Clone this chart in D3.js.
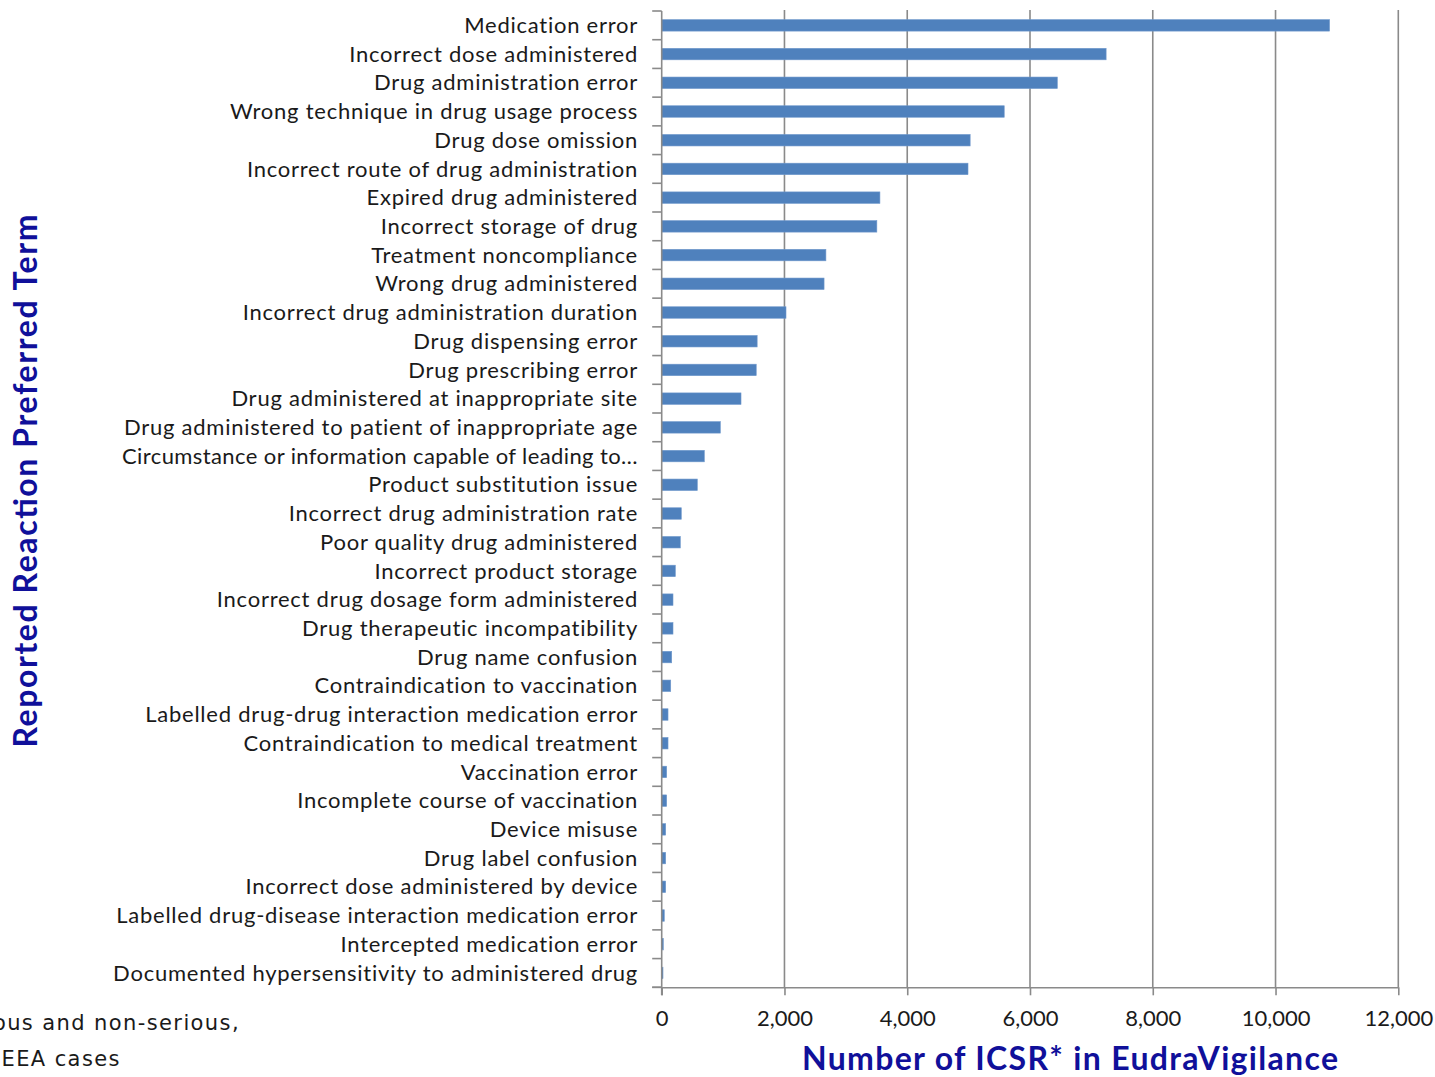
<!DOCTYPE html>
<html>
<head>
<meta charset="utf-8">
<script src="https://cdn.jsdelivr.net/npm/d3@7"></script>
<style>
  html, body { margin: 0; padding: 0; background: #fff; overflow: hidden; }
  svg { display: block; }
</style>
</head>
<body>
<svg id="chart" width="1435" height="1077"></svg>
<script>
const categories = [
  "Medication error",
  "Incorrect dose administered",
  "Drug administration error",
  "Wrong technique in drug usage process",
  "Drug dose omission",
  "Incorrect route of drug administration",
  "Expired drug administered",
  "Incorrect storage of drug",
  "Treatment noncompliance",
  "Wrong drug administered",
  "Incorrect drug administration duration",
  "Drug dispensing error",
  "Drug prescribing error",
  "Drug administered at inappropriate site",
  "Drug administered to patient of inappropriate age",
  "Circumstance or information capable of leading to…",
  "Product substitution issue",
  "Incorrect drug administration rate",
  "Poor quality drug administered",
  "Incorrect product storage",
  "Incorrect drug dosage form administered",
  "Drug therapeutic incompatibility",
  "Drug name confusion",
  "Contraindication to vaccination",
  "Labelled drug-drug interaction medication error",
  "Contraindication to medical treatment",
  "Vaccination error",
  "Incomplete course of vaccination",
  "Device misuse",
  "Drug label confusion",
  "Incorrect dose administered by device",
  "Labelled drug-disease interaction medication error",
  "Intercepted medication error",
  "Documented hypersensitivity to administered drug"
];

const icsrCounts = [
  10880, 7240, 6445, 5580, 5025, 4990, 3555, 3505, 2675, 2645,
  2025, 1555, 1540, 1292, 955, 694, 580, 319, 303, 222,
  184, 184, 163, 147, 103, 103, 81, 81, 65, 65,
  65, 42, 26, 21
];

const xTickValues = [0, 2000, 4000, 6000, 8000, 10000, 12000];

const xTitle = "Number of ICSR* in EudraVigilance";
const yTitle = "Reported Reaction Preferred Term";
const footnoteLines = ["*Serious and non-serious,", "EEA cases"];

const svg = d3.select("#chart");

const plot = { left: 661.7, right: 1398.3, top: 11, bottom: 987.3 };

const x = d3.scaleLinear().domain([0, 12000]).range([plot.left, plot.right]);
const y = d3.scaleBand().domain(categories).range([plot.top, plot.bottom])
  .paddingInner(0.6).paddingOuter(0.3);

const gridColor = "#8a8a8a";
const titleColor = "#10109a";
const labelFont = "Lato, 'Open Sans', sans-serif";

// gridlines
svg.append("g").selectAll("line").data(xTickValues.slice(1)).join("line")
  .attr("x1", d => x(d)).attr("x2", d => x(d))
  .attr("y1", plot.top - 1).attr("y2", plot.bottom)
  .attr("stroke", gridColor).attr("stroke-width", 1.6);

// bars
svg.append("g").selectAll("rect").data(categories).join("rect")
  .attr("x", x(0))
  .attr("y", d => y(d))
  .attr("width", (d, i) => x(icsrCounts[i]) - x(0))
  .attr("height", y.bandwidth())
  .attr("fill", "#4f81bd")
  .attr("stroke", "#6f98cc").attr("stroke-width", 0.6);

// y axis line + ticks at band boundaries
const step = y.step();
const boundaries = d3.range(categories.length + 1).map(i => plot.top + i * step);
svg.append("line")
  .attr("x1", plot.left).attr("x2", plot.left)
  .attr("y1", plot.top).attr("y2", plot.bottom + 8)
  .attr("stroke", gridColor).attr("stroke-width", 1.6);
svg.append("g").selectAll("line").data(boundaries).join("line")
  .attr("x1", plot.left - 9.5).attr("x2", plot.left)
  .attr("y1", d => d).attr("y2", d => d)
  .attr("stroke", gridColor).attr("stroke-width", 1.6);

// category labels
svg.append("g").selectAll("text").data(categories).join("text")
  .attr("x", 638)
  .attr("y", d => y(d) + y.bandwidth() / 2)
  .attr("dy", "0.35em")
  .attr("text-anchor", "end")
  .attr("font-family", labelFont)
  .attr("font-size", 22)
  .attr("letter-spacing", d => d.endsWith("…") ? 0.4 : 0.75)
  .attr("fill", "#1a1a1a")
  .text(d => d);

// x axis
const xAxis = d3.axisBottom(x).tickValues(xTickValues)
  .tickFormat(d3.format(",")).tickSize(8).tickPadding(15).tickSizeOuter(0);
const gx = svg.append("g").attr("transform", `translate(0,${plot.bottom})`).call(xAxis);
gx.select(".domain").attr("stroke", gridColor).attr("stroke-width", 1.6);
gx.selectAll(".tick line").attr("stroke", gridColor).attr("stroke-width", 1.6);
gx.selectAll(".tick text").attr("font-family", labelFont).attr("font-size", 22)
  .attr("fill", "#1a1a1a");
svg.append("line")
  .attr("x1", plot.left - 9.5).attr("x2", plot.left)
  .attr("y1", plot.bottom).attr("y2", plot.bottom)
  .attr("stroke", gridColor).attr("stroke-width", 1.6);

// axis titles
svg.append("text")
  .attr("x", 1070).attr("y", 1070)
  .attr("text-anchor", "middle")
  .attr("font-family", labelFont).attr("font-weight", "bold")
  .attr("font-size", 32).attr("fill", titleColor)
  .attr("textLength", 536).attr("lengthAdjust", "spacing")
  .text(xTitle);

svg.append("text")
  .attr("transform", "translate(37,481) rotate(-90)")
  .attr("text-anchor", "middle")
  .attr("font-family", labelFont).attr("font-weight", "bold")
  .attr("font-size", 32).attr("fill", titleColor)
  .attr("textLength", 533).attr("lengthAdjust", "spacing")
  .text(yTitle);

// footnote (clipped at the left edge, as in the original)
svg.append("text")
  .attr("x", 240).attr("y", 1030)
  .attr("text-anchor", "end")
  .attr("font-family", "'DejaVu Sans', Verdana, sans-serif")
  .attr("font-size", 21).attr("letter-spacing", 1.4).attr("fill", "#1a1a1a")
  .text(footnoteLines[0]);
svg.append("text")
  .attr("x", 1.5).attr("y", 1066)
  .attr("text-anchor", "start")
  .attr("font-family", "'DejaVu Sans', Verdana, sans-serif")
  .attr("font-size", 21).attr("letter-spacing", 1.4).attr("fill", "#1a1a1a")
  .text(footnoteLines[1]);
</script>
</body>
</html>
